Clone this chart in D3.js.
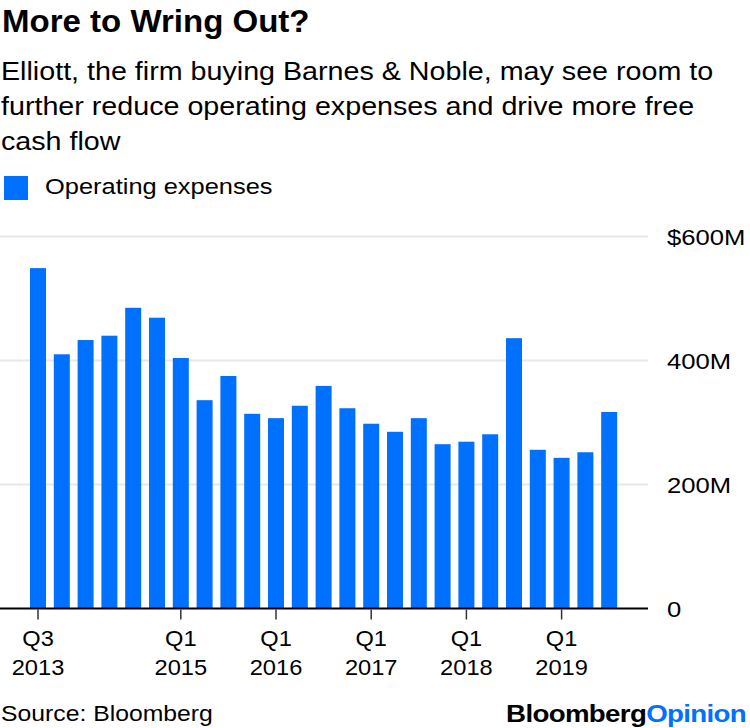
<!DOCTYPE html>
<html><head><meta charset="utf-8">
<script src="https://cdn.jsdelivr.net/npm/d3@7"></script>
<style>
body{margin:0;background:#fff;}
svg{display:block;font-family:"Liberation Sans",Arial,Helvetica,sans-serif;}
</style></head>
<body>
<svg id="chart" width="750" height="728"></svg>
<script>
const quarters = ["Q3 2013","Q4 2013","Q1 2014","Q2 2014","Q3 2014","Q4 2014","Q1 2015","Q2 2015","Q3 2015","Q4 2015","Q1 2016","Q2 2016","Q3 2016","Q4 2016","Q1 2017","Q2 2017","Q3 2017","Q4 2017","Q1 2018","Q2 2018","Q3 2018","Q4 2018","Q1 2019","Q2 2019","Q3 2019"];
const opex = [549,410,433,440,485,469,404,336,375,314,307,327,359,323,298,285,307,265,269,281,436,256,243,252,317];
const yTicks = [0,200,400,600];
const yTickLabels = ["0","200M","400M","$600M"];
const xTicks = ["Q3 2013","Q1 2015","Q1 2016","Q1 2017","Q1 2018","Q1 2019"];

const svg = d3.select("#chart");
const blue = "#0070ff";

// widen glyphs slightly to mimic the wider grotesque face of the original
function stretch(sel, f){
  sel.each(function(){
    const w = this.getComputedTextLength();
    d3.select(this).attr("textLength", w*f).attr("lengthAdjust","spacingAndGlyphs");
  });
  return sel;
}

const x = d3.scaleBand().domain(quarters).range([26.1, 621.1]).paddingInner(0.328).paddingOuter(0.164);
const y = d3.scaleLinear().domain([0,600]).range([608.5, 236.5]);

// title
stretch(svg.append("text").attr("x",2).attr("y",31.7).attr("font-size",31).attr("font-weight","bold").attr("fill","#000").text("More to Wring Out?"), 1.065);
const sub = ["Elliott, the firm buying Barnes & Noble, may see room to","further reduce operating expenses and drive more free","cash flow"];
stretch(svg.append("g").selectAll("text").data(sub).join("text")
  .attr("x",1).attr("y",(d,i)=>80+i*35).attr("font-size",25.6).attr("fill","#000").text(d=>d), 1.12);

// legend
svg.append("rect").attr("x",4).attr("y",176).attr("width",24).attr("height",24).attr("fill",blue);
stretch(svg.append("text").attr("x",45).attr("y",194.3).attr("font-size",22.5).attr("fill","#000").text("Operating expenses"), 1.13);

// gridlines
svg.append("g").selectAll("line").data(yTicks.filter(d=>d>0)).join("line")
  .attr("x1",0).attr("x2",648).attr("y1",d=>y(d)).attr("y2",d=>y(d))
  .attr("stroke","#e8e8e8").attr("stroke-width",2);

// y labels
stretch(svg.append("g").selectAll("text").data(yTicks).join("text")
  .attr("x",667).attr("y",d=>y(d)+8).attr("font-size",22.5).attr("fill","#000")
  .text((d,i)=>yTickLabels[i]), 1.14);

// bars
svg.append("g").selectAll("rect").data(opex).join("rect")
  .attr("x",(d,i)=>x(quarters[i])).attr("width",x.bandwidth())
  .attr("y",d=>y(d)).attr("height",d=>y(0)-y(d)).attr("fill",blue);

// baseline
svg.append("line").attr("x1",0).attr("x2",648).attr("y1",y(0)).attr("y2",y(0)).attr("stroke","#000").attr("stroke-width",2);

// x ticks
const xt = svg.append("g").selectAll("g").data(xTicks).join("g")
  .attr("transform",d=>`translate(${x(d)+x.bandwidth()/2},0)`);
xt.append("line").attr("y1",y(0)+1).attr("y2",y(0)+11).attr("stroke","#333").attr("stroke-width",1.5);
stretch(xt.append("text").attr("text-anchor","middle").attr("y",646).attr("font-size",21.5).attr("fill","#000").text(d=>d.split(" ")[0]), 1.1);
stretch(xt.append("text").attr("text-anchor","middle").attr("y",675).attr("font-size",21.5).attr("fill","#000").text(d=>d.split(" ")[1]), 1.1);

// footer
stretch(svg.append("text").attr("x",1).attr("y",721).attr("font-size",22.5).attr("fill","#000").text("Source: Bloomberg"), 1.1);
const brand = svg.append("text").attr("x",746).attr("y",721.5).attr("text-anchor","end").attr("font-size",24.5).attr("font-weight","bold").attr("letter-spacing",-0.6);
brand.append("tspan").attr("fill","#000").text("Bloomberg");
brand.append("tspan").attr("fill",blue).text("Opinion");
stretch(brand, 1.13);
</script>
</body></html>
